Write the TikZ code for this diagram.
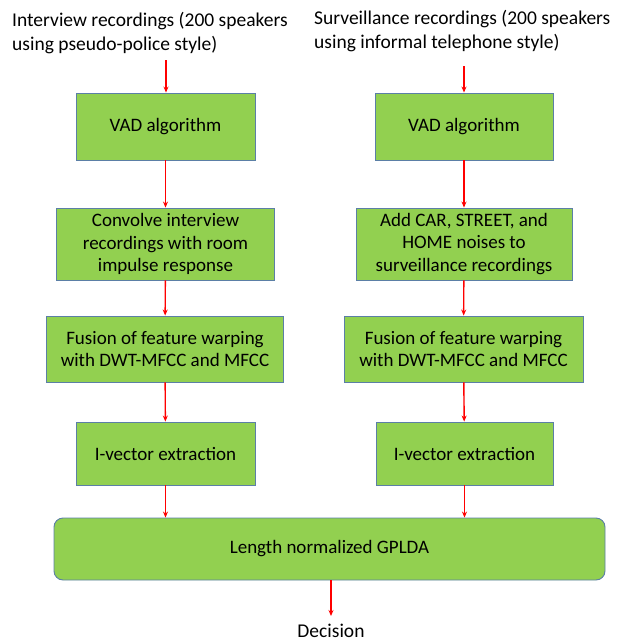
\documentclass[tikz,border=0pt]{standalone}
\usepackage{fontspec}
\setmainfont{Carlito}
\usetikzlibrary{arrows.meta}
\definecolor{boxfill}{HTML}{92D050}
\definecolor{boxline}{HTML}{5B7FA6}
\definecolor{arrowred}{HTML}{FF0000}
\begin{document}
\begin{tikzpicture}[x=1pt,y=-1pt,
  stage/.style={draw=boxline,line width=0.9pt,fill=boxfill,inner sep=2pt,
    align=center,font=\fontsize{19}{22.5}\selectfont},
  flow/.style={draw=arrowred,line width=1.4pt,-{Stealth[length=6pt,width=5pt]}},
  caption/.style={align=left,inner sep=0pt,font=\fontsize{19.5}{24}\selectfont}]
\useasboundingbox (0,0) rectangle (620,640);

% inputs
\node[caption,anchor=north west] (srcL) at (12,12) {Interview recordings (200 speakers\\using pseudo-police style)};
\node[caption,anchor=north west] (srcR) at (314,10) {Surveillance recordings (200 speakers\\using informal telephone style)};
\coordinate (inL) at (166,60);
\coordinate (inR) at (464,66);

% left chain
\node[stage,minimum width=179pt,minimum height=67pt] (vadL) at (165.5,126.5) {VAD algorithm};
\node[stage,minimum width=218pt,minimum height=72pt] (convL) at (165.5,244) {Convolve interview\\recordings with room\\impulse response};
\node[stage,minimum width=237pt,minimum height=66pt] (fusL) at (165,349) {Fusion of feature warping\\with DWT-MFCC and MFCC};
\node[stage,minimum width=179pt,minimum height=63pt] (ivL) at (165.5,453.5) {I-vector extraction};

% right chain
\node[stage,minimum width=178pt,minimum height=67pt] (vadR) at (464,126.5) {VAD algorithm};
\node[stage,minimum width=216pt,minimum height=72pt] (noiseR) at (464,244) {Add CAR, STREET, and\\HOME noises to\\surveillance recordings};
\node[stage,minimum width=239pt,minimum height=66pt] (fusR) at (463.5,349) {Fusion of feature warping\\with DWT-MFCC and MFCC};
\node[stage,minimum width=177pt,minimum height=63pt] (ivR) at (464.5,453.5) {I-vector extraction};

% back end
\node[stage,rounded corners=9pt,minimum width=551pt,minimum height=62pt] (gplda) at (329.5,549) {Length normalized GPLDA};
\node[caption,anchor=north,inner xsep=0pt,inner ysep=8pt] (dec) at (331,616) {Decision};

% connectors
\draw[flow] (inL) -- (vadL.north -| inL);
\draw[flow] (inR) -- (vadR.north -| inR);
\draw[flow] (vadL) -- (convL);
\draw[flow] (convL) -- (fusL);
\draw[flow] (fusL) -- (ivL);
\draw[flow] (vadR) -- (noiseR);
\draw[flow] (noiseR) -- (fusR);
\draw[flow] (fusR) -- (ivR);
\draw[flow] (ivL.south) -- (ivL.south |- gplda.north);
\draw[flow] (ivR.south) -- (ivR.south |- gplda.north);
\draw[flow] (gplda.south -| dec.north) -- (dec.north);
\end{tikzpicture}
\end{document}
